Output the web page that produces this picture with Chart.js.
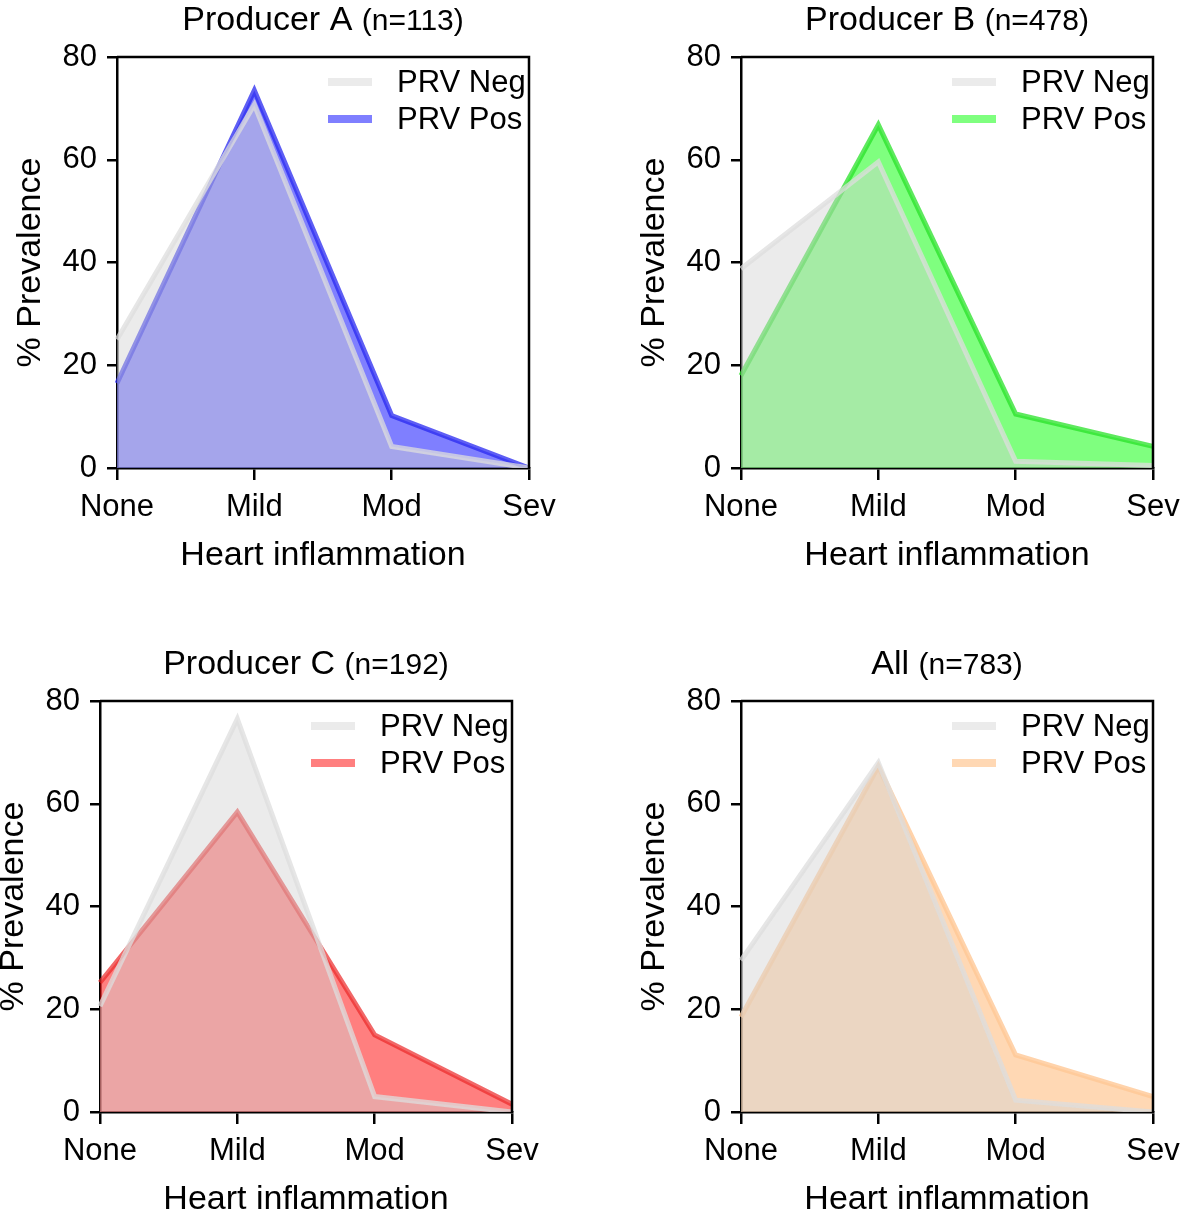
<!DOCTYPE html>
<html>
<head>
<meta charset="utf-8">
<script src="https://cdn.jsdelivr.net/npm/chart.js@4.4.0/dist/chart.umd.min.js"></script>
<style>
  html, body { margin: 0; padding: 0; background: #fff; overflow: hidden; }
  body { width: 1182px; height: 1212px; position: relative; }
  canvas { position: absolute; }
</style>
</head>
<body>
<canvas id="chartA" width="591" height="600" style="left:0px;top:0px"></canvas>
<canvas id="chartB" width="591" height="600" style="left:624px;top:0px"></canvas>
<canvas id="chartC" width="591" height="600" style="left:-17px;top:644px"></canvas>
<canvas id="chartD" width="591" height="600" style="left:624px;top:644px"></canvas>
<script>
// データ
const severity = ['None', 'Mild', 'Mod', 'Sev'];
const seriesLabels = ['PRV Neg', 'PRV Pos'];
const panelTitles = ['Producer A', 'Producer B', 'Producer C', 'All'];
const panelCounts = ['(n=113)', '(n=478)', '(n=192)', '(n=783)'];

const negA = [25, 70.7, 4.2, 0];
const posA = [16.5, 73.5, 10.2, 0];
const negB = [38.8, 59.6, 1.3, 0.5];
const posB = [18, 66.8, 10.5, 4.2];
const negC = [20.6, 76.5, 3, 0];
const posC = [25.2, 58.4, 15, 1.5];
const negD = [29.5, 68, 2.3, 0];
const posD = [18.5, 67.3, 11.1, 3];

const FONT = '"Liberation Sans", Arial, sans-serif';

// 枠・凡例・タイトル
const panelDecor = {
  id: 'panelDecor',
  afterDatasetsDraw(chart, args, opts) {
    const { ctx, chartArea: a } = chart;
    ctx.save();
    ctx.strokeStyle = '#000';
    ctx.lineWidth = 2.5;
    ctx.beginPath();
    ctx.moveTo(a.left, a.top);
    ctx.lineTo(a.right, a.top);
    ctx.lineTo(a.right, a.bottom);
    ctx.stroke();

    chart.data.datasets.forEach((ds, i) => {
      const y = a.top + 25 + i * 37;
      ctx.strokeStyle = ds.legendColor;
      ctx.lineWidth = 8;
      ctx.beginPath();
      ctx.moveTo(a.right - 201, y);
      ctx.lineTo(a.right - 157, y);
      ctx.stroke();
      ctx.fillStyle = '#000';
      ctx.font = '31px ' + FONT;
      ctx.textBaseline = 'middle';
      ctx.textAlign = 'left';
      ctx.fillText(ds.label, a.right - 132, y + 1);
    });

    const cx = (a.left + a.right) / 2;
    ctx.textBaseline = 'alphabetic';
    ctx.font = '34px ' + FONT;
    const mainText = opts.title + ' ';
    const w1 = ctx.measureText(mainText).width;
    ctx.font = '30px ' + FONT;
    const w2 = ctx.measureText(opts.count).width;
    const x0 = cx - (w1 + w2) / 2;
    ctx.font = '34px ' + FONT;
    ctx.fillText(mainText, x0, a.top - 27);
    ctx.font = '30px ' + FONT;
    ctx.fillText(opts.count, x0 + w1, a.top - 27);
    ctx.restore();
  }
};

function makePanel(id, title, count, neg, pos, posFill, posLine) {
  const ctx = document.getElementById(id).getContext('2d');
  return new Chart(ctx, {
    type: 'line',
    data: {
      labels: severity,
      datasets: [
        {
          label: seriesLabels[0],
          data: neg,
          borderColor: 'rgba(222,222,222,0.75)',
          backgroundColor: 'rgba(210,210,210,0.45)',
          legendColor: 'rgb(235,235,235)',
          borderWidth: 5,
          fill: 'origin'
        },
        {
          label: seriesLabels[1],
          data: pos,
          borderColor: posLine,
          backgroundColor: posFill,
          legendColor: posFill,
          borderWidth: 5,
          fill: 'origin'
        }
      ]
    },
    options: {
      responsive: false,
      animation: false,
      layout: { padding: { top: 57, right: 62, left: 0, bottom: 0 } },
      elements: {
        point: { radius: 0, hoverRadius: 0 },
        line: { tension: 0, borderJoinStyle: 'miter' }
      },
      scales: {
        x: {
          offset: false,
          afterFit: (scale) => { scale.height = 132; },
          border: { display: true, color: '#000', width: 2.5 },
          grid: { drawOnChartArea: false, drawTicks: true, tickLength: 12, color: '#000', lineWidth: 2.5 },
          ticks: { color: '#000', font: { family: FONT, size: 31 }, padding: 9, maxRotation: 0, autoSkip: false },
          title: { display: true, text: 'Heart inflammation', color: '#000', font: { family: FONT, size: 34 }, padding: { top: 0, bottom: 24 } }
        },
        y: {
          min: 0,
          max: 80,
          afterFit: (scale) => { scale.width = 117; },
          border: { display: true, color: '#000', width: 2.5 },
          grid: { drawOnChartArea: false, drawTicks: true, tickLength: 10, color: '#000', lineWidth: 2.5 },
          ticks: { stepSize: 20, color: '#000', font: { family: FONT, size: 31 }, padding: 10 },
          title: { display: true, text: '% Prevalence', color: '#000', font: { family: FONT, size: 34 }, padding: { top: 10, bottom: 0 } }
        }
      },
      plugins: {
        legend: { display: false },
        tooltip: { enabled: false },
        panelDecor: { title: title, count: count }
      }
    },
    plugins: [panelDecor]
  });
}

makePanel('chartA', panelTitles[0], panelCounts[0], negA, posA, 'rgba(0,0,255,0.5)', 'rgba(40,40,240,0.75)');
makePanel('chartB', panelTitles[1], panelCounts[1], negB, posB, 'rgba(0,255,0,0.5)', 'rgba(40,225,40,0.75)');
makePanel('chartC', panelTitles[2], panelCounts[2], negC, posC, 'rgba(255,0,0,0.5)', 'rgba(235,40,40,0.7)');
makePanel('chartD', panelTitles[3], panelCounts[3], negD, posD, 'rgba(255,178,105,0.5)', 'rgba(255,200,150,0.8)');
</script>
</body>
</html>
